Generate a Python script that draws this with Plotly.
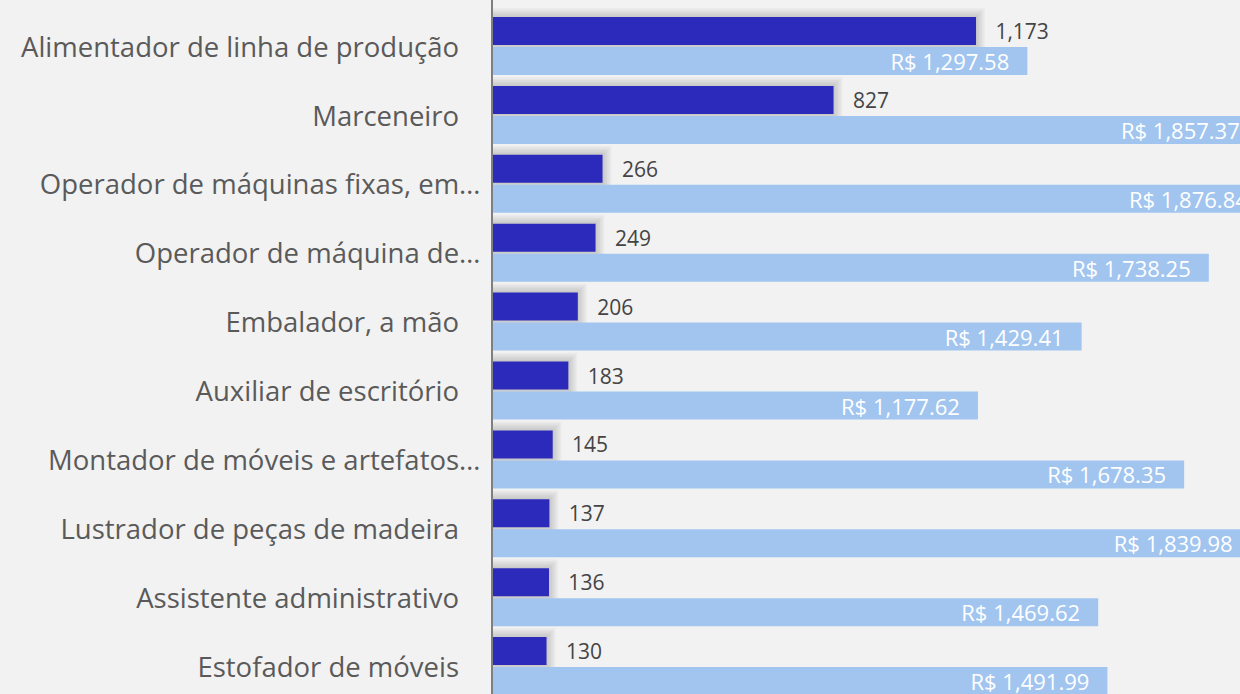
import plotly.graph_objects as go

# Occupations, number of workers and average salary (R$)
categories = [
    "Alimentador de linha de produção",
    "Marceneiro",
    "Operador de máquinas fixas, em…",
    "Operador de máquina de…",
    "Embalador, a mão",
    "Auxiliar de escritório",
    "Montador de móveis e artefatos…",
    "Lustrador de peças de madeira",
    "Assistente administrativo",
    "Estofador de móveis",
]
workers = [1173, 827, 266, 249, 206, 183, 145, 137, 136, 130]
salaries = [1297.58, 1857.37, 1876.84, 1738.25, 1429.41, 1177.62, 1678.35, 1839.98, 1469.62, 1491.99]

W, H = 1240, 694
LEFT = 493
X_MAX = 1814            # visible value range of the shared x axis
ROW_PX = 68.9           # pixels per category band
FIRST_CENTER_PX = 47    # y pixel of first band centre
BAR_PX = 28

px_y = 1.0 / ROW_PX
px_x = X_MAX / (W - LEFT)

dark_offset = -30 * px_y
light_offset = 0.0
bar_w = BAR_PX * px_y

DARK = "#2B2ABB"
LIGHT = "#A1C5EF"
BG = "#F2F2F2"
FONT = "Open Sans"

idx = list(range(len(categories)))
nb = "\u00a0"
thin = "\u2009"
ticktext = [c if c.endswith("…") else c + nb * 3 for c in categories]

fig = go.Figure()

# soft drop shadow behind the dark bars
for k in range(1, 7):
    d = 1.5 * k
    fig.add_trace(go.Bar(
        y=idx, x=[v + d * px_x for v in workers], base=0,
        orientation="h",
        offset=dark_offset - d * px_y, width=bar_w + 2 * d * px_y,
        marker=dict(color="rgba(0,0,0,0.028)", line=dict(width=0)),
        hoverinfo="skip", showlegend=False,
    ))

fig.add_trace(go.Bar(
    y=idx, x=workers, orientation="h",
    offset=dark_offset, width=bar_w,
    marker=dict(color=DARK, line=dict(width=0)),
    texttemplate=nb * 3 + "%{x:,.0f}",
    textposition="outside",
    textfont=dict(family=FONT, size=21, color="#444444"),
    constraintext="none",
    cliponaxis=True,
    showlegend=False,
))

fig.add_trace(go.Bar(
    y=idx, x=salaries, orientation="h",
    offset=light_offset, width=bar_w,
    marker=dict(color=LIGHT, line=dict(width=0)),
    texttemplate="R$ %{x:,.2f}" + nb * 2 + thin,
    textposition="inside",
    insidetextanchor="end",
    textfont=dict(family=FONT, size=22, color="#FFFFFF"),
    constraintext="none",
    cliponaxis=True,
    showlegend=False,
))

fig.update_layout(
    width=W, height=H,
    margin=dict(l=LEFT, r=0, t=0, b=0),
    paper_bgcolor=BG, plot_bgcolor=BG,
    barmode="overlay",
    xaxis=dict(range=[0, X_MAX], visible=False, showgrid=False, zeroline=False),
    yaxis=dict(
        range=[(H - FIRST_CENTER_PX) / ROW_PX, -FIRST_CENTER_PX / ROW_PX],
        tickmode="array", tickvals=idx, ticktext=ticktext,
        ticks="", showgrid=False, zeroline=False,
        showline=True, linecolor="#7F7F7F", linewidth=2,
        ticklabelstandoff=5,
        tickfont=dict(family=FONT, size=27.5, color="#5A5A5A"),
    ),
)

fig.write_html("out.html")
